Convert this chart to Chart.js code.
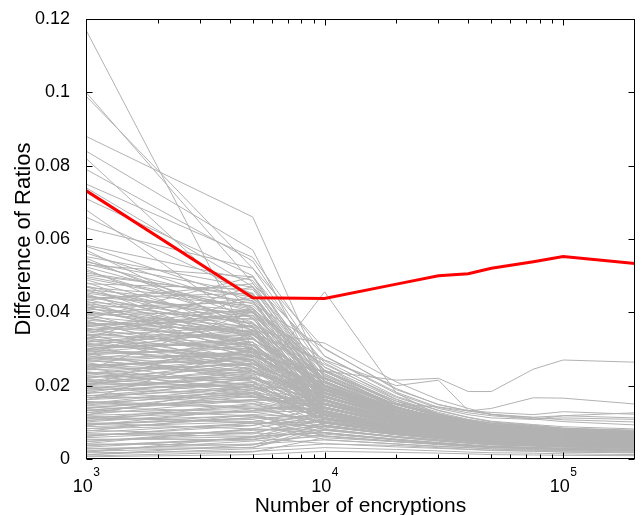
<!DOCTYPE html>
<html lang="en">
<head>
<meta charset="UTF-8">
<title>Difference of Ratios</title>
<style>
  html, body { margin: 0; padding: 0; background: #fff; }
  #wrap { width: 644px; height: 515px; }
</style>
</head>
<body>
<div id="wrap"><canvas id="ratios-chart" width="644" height="515"></canvas></div>
<script src="https://cdn.jsdelivr.net/npm/chart.js"></script>
<script>
// number of encryptions at which each ratio was measured
const encryptions = [1000, 5000, 10000, 20000, 30000, 40000, 50000, 75000, 100000, 200000];

// correct key guess (red)
const correctKey = [.0732, .0440, .0438, .0477, .0500, .0505, .0520, .0538, .0552, .0533];

// wrong key guesses (grey), one row per guess, same order as encryptions
const wrongKeys = [
  [.117,.030,.013,.0085,.0068,.0057,.0052,.0046,.0041,.0033],
  [.100,.048,.020,.0124,.0096,.0083,.0071,.0064,.0055,.0049],
  [.099,.052,.024,.0142,.0103,.0088,.0079,.0071,.0063,.0058],
  [.088,.066,.022,.0133,.0108,.0094,.0081,.0074,.0068,.0061],
  [.084,.057,.019,.0114,.0092,.0077,.0069,.0063,.0057,.0052],
  [.082,.040,.016,.0098,.0081,.0072,.0063,.0056,.0052,.0047],
  [.079,.054,.025,.0152,.0121,.0103,.0092,.0084,.0078,.0071],
  [.075,.055,.028,.0178,.0138,.0121,.0112,.0108,.0118,.0112],
  [.074,.047,.018,.0113,.0087,.0076,.0068,.0062,.0058,.0053],
  [.071,.050,.021,.0138,.0112,.0093,.0084,.0077,.0071,.0064],
  [.068,.036,.014,.0092,.0073,.0062,.0057,.0051,.0047,.0042],
  [.066,.045,.017,.0118,.0098,.0087,.0079,.0072,.0066,.0059],
  [.063,.052,.030,.0192,.0148,.0132,.0127,.0121,.0129,.0122],
  [.058,.043,.020,.0131,.0106,.0093,.0082,.0076,.0072,.0067],
  [.057,.035,.015,.0101,.0083,.0069,.0061,.0058,.0053,.0048],
  [.012,.020,.0456,.018,.012,.0098,.0089,.0081,.0074,.0063],
  [.030,.035,.0316,.021,.0162,.0138,.0121,.0113,.0107,.0101],
  [.025,.028,.024,.0215,.022,.0184,.0184,.0245,.027,.0264],
  [.020,.022,.018,.015,.0142,.0131,.0138,.0167,.0166,.015],
  [.035,.040,.027,.020,.0215,.0132,.0122,.0109,.0102,.0093],
  [.0552,.0468,.0223,.0141,.0107,.0092,.0083,.0071,.0068,.0057],
  [.0541,.0384,.0158,.0106,.0088,.0079,.0066,.0062,.0056,.0051],
  [.0529,.0497,.0262,.0163,.0127,.0108,.0098,.0088,.0081,.0072],
  [.0518,.0331,.0139,.0097,.0079,.0068,.0061,.0055,.0052,.0046],
  [.0507,.0442,.0193,.0127,.0103,.0086,.0077,.0081,.0073,.0061],
  [.0498,.0412,.0228,.0148,.0118,.0101,.0091,.0083,.0077,.0069],
  [.0489,.0358,.0121,.0082,.0068,.0059,.0052,.0047,.0044,.0039],
  [.0478,.0463,.0209,.0134,.0109,.0097,.0087,.0079,.0073,.0066],
  [.0471,.0302,.0171,.0117,.0096,.0082,.0073,.0066,.0061,.0054],
  [.0462,.0418,.0243,.0158,.0124,.0104,.0094,.0086,.0079,.0071],
  [.0453,.0387,.0112,.0074,.0061,.0053,.0048,.0043,.0039,.0036],
  [.0447,.0344,.0188,.0122,.0094,.0081,.0072,.0064,.0059,.0052],
  [.0439,.0452,.0201,.0139,.0108,.0091,.0083,.0076,.0071,.0063],
  [.0431,.0283,.0133,.0093,.0077,.0066,.0059,.0053,.0049,.0044],
  [.0424,.0372,.0219,.0149,.0121,.0106,.0097,.0089,.0083,.0076],
  [.0413,.0428,.0182,.0121,.0098,.0084,.0076,.0068,.0063,.0057],
  [.0406,.0318,.0153,.0108,.0088,.0073,.0067,.0061,.0057,.0051],
  [.0398,.0361,.0104,.0078,.0066,.0057,.0051,.0048,.0045,.0041],
  [.0392,.0403,.0211,.0132,.0102,.0088,.0079,.0073,.0068,.0061],
  [.0384,.0312,.0168,.0116,.0097,.0086,.0077,.0069,.0063,.0058],
  [.0377,.0263,.0093,.0068,.0057,.0049,.0043,.0039,.0036,.0031],
  [.0371,.0348,.0232,.0143,.0112,.0094,.0087,.0079,.0072,.0067],
  [.0364,.0383,.0162,.0108,.0083,.0072,.0066,.0059,.0056,.0049],
  [.0357,.0291,.0142,.0102,.0086,.0077,.0069,.0062,.0058,.0055],
  [.0349,.0327,.0198,.0138,.0116,.0099,.0091,.0082,.0077,.0071],
  [.0342,.0243,.0118,.0083,.0068,.0059,.0052,.0047,.0042,.0038],
  [.0336,.0362,.0179,.0121,.0099,.0087,.0078,.0071,.0066,.0062],
  [.0328,.0298,.0113,.0087,.0075,.0066,.0058,.0054,.0051,.0046],
  [.0321,.0338,.0207,.0129,.0101,.0084,.0076,.0069,.0063,.0058],
  [.0316,.0272,.0148,.0103,.0081,.0071,.0063,.0058,.0053,.0047],
  [.0309,.0234,.0172,.0113,.0091,.0079,.0072,.0066,.0062,.0056],
  [.0302,.0318,.0128,.0089,.0072,.0063,.0057,.0052,.0047,.0042],
  [.0296,.0283,.0192,.0137,.0112,.0098,.0088,.0081,.0074,.0068],
  [.0288,.0212,.0098,.0071,.0059,.0052,.0047,.0043,.0039,.0036],
  [.0283,.0309,.0158,.0104,.0087,.0077,.0069,.0063,.0058,.0053],
  [.0276,.0254,.0123,.0091,.0078,.0068,.0061,.0057,.0052,.0047],
  [.0269,.0293,.0218,.0148,.0118,.0102,.0093,.0084,.0078,.0072],
  [.0263,.0198,.0137,.0097,.0082,.0071,.0063,.0058,.0054,.0049],
  [.0257,.0268,.0109,.0082,.0069,.0061,.0054,.0049,.0046,.0041],
  [.0251,.0239,.0177,.0123,.0099,.0086,.0077,.0072,.0067,.0061],
  [.0244,.0297,.0151,.0108,.0089,.0078,.0071,.0066,.0061,.0057],
  [.0238,.0187,.0091,.0068,.0058,.0051,.0046,.0042,.0039,.0034],
  [.0232,.0262,.0131,.0092,.0077,.0068,.0062,.0056,.0052,.0048],
  [.0226,.0221,.0168,.0118,.0096,.0083,.0076,.0081,.0073,.0068],
  [.0219,.0281,.0197,.0131,.0106,.0092,.0083,.0076,.0071,.0066],
  [.0213,.0178,.0119,.0083,.0069,.0061,.0056,.0051,.0046,.0043],
  [.0207,.0232,.0102,.0079,.0066,.0058,.0052,.0047,.0043,.0038],
  [.0201,.0248,.0158,.0112,.0091,.0079,.0072,.0064,.0059,.0054],
  [.0194,.0168,.0141,.0098,.0081,.0069,.0063,.0057,.0053,.0048],
  [.0187,.0209,.0108,.0077,.0063,.0056,.0051,.0046,.0042,.0037],
  [.0181,.0242,.0186,.0127,.0102,.0088,.0079,.0072,.0067,.0061],
  [.0174,.0152,.0083,.0061,.0052,.0046,.0041,.0038,.0035,.0031],
  [.0167,.0198,.0128,.0093,.0078,.0068,.0061,.0057,.0052,.0047],
  [.0161,.0221,.0152,.0107,.0088,.0076,.0069,.0063,.0059,.0056],
  [.0154,.0139,.0098,.0071,.0059,.0052,.0047,.0043,.0039,.0035],
  [.0147,.0188,.0118,.0086,.0071,.0063,.0057,.0051,.0047,.0042],
  [.0141,.0162,.0171,.0119,.0097,.0087,.0078,.0071,.0066,.0062],
  [.0134,.0118,.0072,.0052,.0043,.0038,.0034,.0031,.0028,.0026],
  [.0126,.0178,.0112,.0081,.0068,.0059,.0053,.0048,.0044,.0039],
  [.0119,.0131,.0139,.0098,.0081,.0071,.0063,.0058,.0053,.0049],
  [.0112,.0102,.0089,.0067,.0056,.0049,.0044,.0041,.0037,.0033],
  [.0104,.0148,.0121,.0088,.0073,.0063,.0058,.0053,.0049,.0046],
  [.0097,.0108,.0063,.0048,.0041,.0036,.0032,.0029,.0027,.0023],
  [.0091,.0137,.0102,.0074,.0062,.0054,.0049,.0044,.0041,.0037],
  [.0083,.0092,.0128,.0092,.0077,.0068,.0061,.0054,.0051,.0047],
  [.0076,.0121,.0081,.0059,.0049,.0043,.0039,.0036,.0033,.0029],
  [.0068,.0072,.0108,.0079,.0064,.0057,.0052,.0047,.0043,.0039],
  [.0061,.0098,.0053,.0041,.0035,.0031,.0028,.0026,.0023,.0021],
  [.0054,.0053,.0091,.0068,.0057,.0049,.0044,.0041,.0038,.0034],
  [.0047,.0081,.0072,.0054,.0045,.0039,.0035,.0032,.0029,.0026],
  [.0041,.0038,.0098,.0076,.0066,.0058,.0052,.0048,.0044,.0041],
  [.0036,.0058,.0042,.0033,.0029,.0026,.0023,.0021,.0019,.0017],
  [.0029,.0031,.0079,.0061,.0052,.0044,.0039,.0035,.0033,.0029],
  [.0022,.0049,.0062,.0047,.0039,.0034,.0031,.0028,.0025,.0022],
  [.0017,.0021,.0031,.0026,.0022,.0019,.0017,.0016,.0014,.0012],
  [.0011,.0039,.0068,.0052,.0043,.0037,.0033,.0031,.0028,.0024],
  [.0006,.0012,.0021,.0018,.0016,.0014,.0012,.0011,.0010,.0009],
  [.0444,.0403,.0173,.0113,.0092,.0081,.0073,.0066,.0061,.0056],
  [.0423,.0308,.0203,.0133,.0107,.0093,.0084,.0077,.0071,.0064],
  [.0393,.0438,.0161,.0103,.0084,.0072,.0064,.0059,.0054,.0049],
  [.0372,.0281,.0238,.0157,.0123,.0104,.0094,.0086,.0081,.0073],
  [.0352,.0392,.0132,.0092,.0078,.0068,.0061,.0056,.0051,.0047],
  [.0331,.0258,.0181,.0114,.0093,.0081,.0073,.0068,.0063,.0058],
  [.0311,.0353,.0101,.0072,.0061,.0053,.0048,.0044,.0041,.0037],
  [.0291,.0327,.0189,.0128,.0102,.0089,.0081,.0074,.0069,.0063],
  [.0272,.0221,.0129,.0091,.0076,.0066,.0059,.0055,.0051,.0046],
  [.0252,.0287,.0161,.0112,.0093,.0081,.0072,.0065,.0061,.0058],
  [.0233,.0193,.0199,.0138,.0111,.0097,.0088,.0081,.0074,.0068],
  [.0212,.0268,.0142,.0098,.0081,.0071,.0064,.0058,.0053,.0049],
  [.0192,.0223,.0092,.0069,.0058,.0051,.0046,.0041,.0038,.0034],
  [.0172,.0191,.0158,.0112,.0092,.0081,.0073,.0067,.0062,.0057],
  [.0152,.0178,.0122,.0084,.0071,.0062,.0057,.0052,.0048,.0043],
  [.0133,.0162,.0148,.0102,.0084,.0074,.0067,.0061,.0057,.0052],
  [.0113,.0128,.0101,.0073,.0061,.0053,.0048,.0044,.0041,.0037],
  [.0093,.0112,.0118,.0087,.0073,.0064,.0058,.0052,.0048,.0044],
  [.0472,.0368,.0258,.0168,.0132,.0113,.0101,.0092,.0084,.0077],
  [.0433,.0478,.0281,.0182,.0141,.0126,.0118,.0109,.0112,.0108],
  [.0532,.0423,.0302,.0189,.0149,.0131,.0122,.0114,.0118,.0126],
  [.0412,.0343,.0268,.0171,.0133,.0114,.0103,.0094,.0088,.0082],
  [.0361,.0409,.0251,.0162,.0122,.0107,.0098,.0091,.0084,.0079],
  [.0583,.0487,.0232,.0148,.0117,.0101,.0089,.0083,.0079,.0073],
  [.0562,.0413,.0178,.0119,.0097,.0084,.0074,.0069,.0064,.0061],
  [.0548,.0357,.0213,.0134,.0104,.0089,.0081,.0076,.0072,.0064],
  [.0537,.0452,.0163,.0108,.0091,.0078,.0071,.0064,.0059,.0053],
  [.0524,.0401,.0242,.0152,.0121,.0103,.0093,.0086,.0082,.0074],
  [.0513,.0373,.0128,.0091,.0077,.0068,.0063,.0058,.0053,.0051],
  [.0502,.0447,.0197,.0123,.0101,.0088,.0082,.0074,.0068,.0063],
  [.0493,.0408,.0169,.0112,.0093,.0078,.0071,.0067,.0062,.0058],
  [.0482,.0327,.0221,.0141,.0113,.0098,.0089,.0082,.0076,.0072],
  [.0468,.0432,.0148,.0101,.0083,.0072,.0064,.0061,.0056,.0052],
  [.0461,.0352,.0192,.0127,.0106,.0091,.0083,.0078,.0073,.0066],
  [.0457,.0391,.0227,.0143,.0113,.0094,.0084,.0079,.0074,.0069],
  [.0451,.0298,.0142,.0099,.0079,.0069,.0062,.0058,.0054,.0049],
  [.0442,.0368,.0212,.0139,.0117,.0101,.0092,.0086,.0081,.0074],
  [.0436,.0332,.0162,.0108,.0088,.0077,.0071,.0064,.0059,.0054],
  [.0428,.0398,.0189,.0121,.0098,.0083,.0078,.0072,.0079,.0071],
  [.0419,.0343,.0118,.0083,.0068,.0059,.0053,.0049,.0046,.0042],
  [.0416,.0289,.0173,.0117,.0093,.0082,.0073,.0068,.0063,.0058],
  [.0409,.0381,.0222,.0142,.0111,.0097,.0088,.0081,.0074,.0071],
  [.0402,.0338,.0181,.0122,.0102,.0089,.0081,.0074,.0069,.0062],
  [.0396,.0277,.0138,.0101,.0083,.0071,.0064,.0059,.0055,.0051],
  [.0388,.0348,.0197,.0128,.0104,.0091,.0082,.0076,.0071,.0064],
  [.0386,.0302,.0124,.0088,.0072,.0063,.0058,.0053,.0049,.0044],
  [.0379,.0341,.0168,.0112,.0091,.0081,.0074,.0068,.0064,.0059],
  [.0373,.0318,.0209,.0138,.0113,.0094,.0086,.0079,.0072,.0068],
  [.0367,.0392,.0151,.0098,.0082,.0072,.0063,.0058,.0053,.0048],
  [.0362,.0329,.0187,.0123,.0101,.0087,.0079,.0072,.0064,.0061],
  [.0358,.0251,.0113,.0079,.0066,.0058,.0053,.0048,.0044,.0041],
  [.0352,.0364,.0218,.0141,.0114,.0098,.0091,.0083,.0078,.0073],
  [.0347,.0293,.0162,.0108,.0087,.0074,.0068,.0063,.0058,.0053],
  [.0341,.0312,.0178,.0121,.0098,.0087,.0078,.0071,.0066,.0063],
  [.0337,.0268,.0127,.0092,.0076,.0067,.0061,.0053,.0051,.0046],
  [.0331,.0339,.0199,.0131,.0104,.0088,.0081,.0074,.0069,.0064],
  [.0326,.0241,.0149,.0101,.0082,.0073,.0064,.0061,.0056,.0051],
  [.0321,.0301,.0171,.0118,.0097,.0083,.0074,.0068,.0062,.0059],
  [.0318,.0361,.0138,.0097,.0081,.0069,.0063,.0058,.0054,.0048],
  [.0312,.0282,.0187,.0128,.0107,.0092,.0084,.0077,.0069,.0064],
  [.0308,.0312,.0122,.0084,.0069,.0061,.0054,.0051,.0047,.0043],
  [.0302,.0252,.0158,.0108,.0089,.0078,.0069,.0063,.0058,.0053],
  [.0298,.0328,.0208,.0139,.0113,.0094,.0086,.0079,.0073,.0068],
  [.0293,.0271,.0132,.0089,.0073,.0064,.0058,.0053,.0049,.0045],
  [.0287,.0302,.0179,.0121,.0098,.0084,.0077,.0069,.0063,.0059],
  [.0282,.0224,.0148,.0102,.0084,.0072,.0067,.0061,.0057,.0052],
  [.0278,.0281,.0198,.0132,.0104,.0091,.0083,.0074,.0069,.0063],
  [.0273,.0318,.0141,.0096,.0079,.0068,.0063,.0057,.0053,.0049],
  [.0268,.0239,.0172,.0117,.0093,.0081,.0073,.0067,.0061,.0055],
  [.0264,.0291,.0121,.0083,.0071,.0062,.0055,.0051,.0046,.0041],
  [.0259,.0232,.0188,.0129,.0107,.0092,.0081,.0074,.0068,.0063],
  [.0254,.0272,.0149,.0101,.0084,.0073,.0064,.0059,.0054,.0051],
  [.0247,.0201,.0128,.0092,.0077,.0068,.0061,.0054,.0051,.0047],
  [.0243,.0258,.0182,.0121,.0098,.0084,.0077,.0071,.0064,.0059],
  [.0237,.0212,.0139,.0098,.0081,.0071,.0064,.0058,.0053,.0049],
  [.0233,.0277,.0163,.0111,.0092,.0079,.0072,.0066,.0061,.0056],
  [.0228,.0182,.0108,.0078,.0066,.0058,.0052,.0048,.0043,.0039],
  [.0222,.0251,.0191,.0129,.0103,.0089,.0081,.0073,.0068,.0061],
  [.0217,.0193,.0128,.0091,.0076,.0067,.0059,.0054,.0051,.0048],
  [.0211,.0238,.0159,.0109,.0089,.0078,.0071,.0064,.0059,.0053],
  [.0206,.0198,.0101,.0072,.0061,.0053,.0048,.0044,.0041,.0037],
  [.0203,.0262,.0172,.0118,.0097,.0083,.0074,.0068,.0062,.0058],
  [.0198,.0173,.0138,.0097,.0081,.0071,.0063,.0058,.0054,.0049],
  [.0193,.0228,.0118,.0082,.0068,.0062,.0056,.0051,.0047,.0042],
  [.0188,.0203,.0178,.0121,.0098,.0086,.0078,.0071,.0066,.0062],
  [.0183,.0158,.0127,.0088,.0074,.0066,.0059,.0053,.0049,.0046],
  [.0178,.0218,.0149,.0104,.0086,.0077,.0068,.0062,.0058,.0052],
  [.0172,.0208,.0109,.0079,.0066,.0058,.0053,.0048,.0043,.0041],
  [.0168,.0169,.0161,.0112,.0093,.0081,.0073,.0066,.0061,.0056],
  [.0162,.0181,.0121,.0086,.0071,.0063,.0057,.0053,.0048,.0043],
  [.0157,.0142,.0138,.0098,.0082,.0071,.0064,.0058,.0055,.0049],
  [.0151,.0198,.0168,.0118,.0096,.0084,.0074,.0068,.0063,.0057],
  [.0146,.0158,.0098,.0073,.0061,.0053,.0048,.0043,.0041,.0036],
  [.0141,.0128,.0131,.0093,.0074,.0064,.0058,.0053,.0049,.0044],
  [.0137,.0182,.0148,.0102,.0083,.0072,.0066,.0061,.0055,.0051],
  [.0131,.0171,.0112,.0081,.0067,.0059,.0053,.0048,.0045,.0041],
  [.0127,.0138,.0138,.0097,.0081,.0069,.0063,.0057,.0053,.0048],
  [.0121,.0161,.0158,.0108,.0089,.0078,.0071,.0063,.0058,.0054],
  [.0117,.0098,.0088,.0066,.0057,.0049,.0044,.0041,.0038,.0034],
  [.0109,.0151,.0131,.0092,.0077,.0068,.0061,.0054,.0051,.0047],
  [.0106,.0117,.0098,.0072,.0061,.0053,.0048,.0044,.0042,.0038],
  [.0101,.0132,.0152,.0108,.0089,.0077,.0071,.0064,.0058,.0053],
  [.0098,.0082,.0078,.0059,.0049,.0043,.0039,.0036,.0033,.0029],
  [.0092,.0121,.0113,.0083,.0069,.0061,.0054,.0049,.0045,.0042],
  [.0088,.0101,.0138,.0101,.0083,.0072,.0064,.0058,.0054,.0049],
  [.0082,.0113,.0092,.0068,.0057,.0051,.0045,.0041,.0038,.0034],
  [.0078,.0068,.0121,.0088,.0073,.0063,.0058,.0052,.0048,.0043],
  [.0072,.0098,.0101,.0074,.0062,.0054,.0048,.0045,.0041,.0038],
  [.0068,.0062,.0071,.0052,.0044,.0038,.0034,.0031,.0029,.0026],
  [.0063,.0091,.0127,.0091,.0076,.0064,.0058,.0053,.0049,.0044],
  [.0058,.0078,.0088,.0066,.0055,.0048,.0043,.0039,.0036,.0033],
  [.0052,.0061,.0108,.0081,.0068,.0059,.0053,.0048,.0044,.0041],
  [.0048,.0071,.0063,.0048,.0041,.0036,.0032,.0029,.0027,.0024],
  [.0042,.0083,.0119,.0087,.0072,.0063,.0057,.0051,.0047,.0043],
  [.0038,.0052,.0081,.0061,.0052,.0044,.0039,.0036,.0033,.0031],
  [.0032,.0058,.0098,.0073,.0061,.0053,.0048,.0044,.0041,.0037],
  [.0027,.0041,.0052,.0041,.0034,.0031,.0027,.0024,.0022,.0019],
  [.0021,.0032,.0088,.0067,.0056,.0049,.0043,.0039,.0036,.0033],
  [.0018,.0061,.0072,.0054,.0044,.0038,.0034,.0031,.0029,.0027],
  [.0012,.0028,.0041,.0037,.0031,.0027,.0024,.0022,.0019,.0017],
  [.0008,.0019,.0058,.0047,.0041,.0036,.0032,.0029,.0026,.0023],
  [.0281,.0448,.0213,.0133,.0104,.0091,.0082,.0074,.0068,.0063],
  [.0242,.0402,.0182,.0121,.0097,.0083,.0074,.0068,.0063,.0058],
  [.0328,.0471,.0238,.0152,.0121,.0103,.0094,.0086,.0079,.0072],
  [.0198,.0343,.0161,.0108,.0088,.0076,.0069,.0063,.0058,.0053],
  [.0161,.0302,.0201,.0131,.0103,.0089,.0081,.0072,.0068,.0062],
  [.0381,.0497,.0198,.0128,.0102,.0088,.0079,.0073,.0067,.0061]
];

// axis ticks
const xTickPowers = [3, 4, 5];
const xMinorTicks = [2000, 3000, 4000, 5000, 6000, 7000, 8000, 9000,
                     20000, 30000, 40000, 50000, 60000, 70000, 80000, 90000];
const yTicks = [0, 0.02, 0.04, 0.06, 0.08, 0.1, 0.12];

const family = '"Liberation Sans", Arial, Helvetica, sans-serif';

const toPoints = vals => encryptions.map((x, i) => ({ x: x, y: vals[i] }));

const datasets = [{
  data: toPoints(correctKey),
  borderColor: '#ff0000',
  borderWidth: 3
}];
wrongKeys.forEach(vals => {
  datasets.push({
    data: toPoints(vals),
    borderColor: 'rgb(178,178,178)',
    borderWidth: 1
  });
});

// matlab style frame, inward ticks and 10^n labels
const matlabBox = {
  id: 'matlabBox',
  afterDraw(chart) {
    const { ctx, chartArea: a, scales: { x, y } } = chart;
    const L = Math.round(a.left) + 0.5, R = Math.round(a.right) - 0.5;
    const T = Math.round(a.top) + 0.5, B = Math.round(a.bottom) - 0.5;
    ctx.save();
    ctx.strokeStyle = '#000';
    ctx.lineWidth = 1;
    ctx.strokeRect(L, T, R - L, B - T);
    ctx.beginPath();
    const xMajor = xTickPowers.map(p => Math.pow(10, p));
    xMajor.concat(xMinorTicks).forEach(v => {
      const px = Math.round(x.getPixelForValue(v)) + 0.5;
      const len = xMajor.includes(v) ? 6 : 4;
      ctx.moveTo(px, B); ctx.lineTo(px, B - len);
      ctx.moveTo(px, T); ctx.lineTo(px, T + len);
    });
    yTicks.forEach(v => {
      const py = Math.round(y.getPixelForValue(v)) + 0.5;
      ctx.moveTo(L, py); ctx.lineTo(L + 6, py);
      ctx.moveTo(R, py); ctx.lineTo(R - 6, py);
    });
    ctx.stroke();

    ctx.fillStyle = '#000';
    ctx.textAlign = 'left';
    ctx.textBaseline = 'alphabetic';
    xTickPowers.forEach(p => {
      const exp = String(p);
      ctx.font = '18px ' + family;
      const w1 = ctx.measureText('10').width;
      ctx.font = '12px ' + family;
      const w2 = ctx.measureText(exp).width;
      const start = x.getPixelForValue(Math.pow(10, p)) - (w1 + w2) / 2;
      ctx.font = '18px ' + family;
      ctx.fillText('10', start, a.bottom + 33);
      ctx.font = '12px ' + family;
      ctx.fillText(exp, start + w1 + 0.5, a.bottom + 16.5);
    });
    ctx.restore();
  }
};

new Chart(document.getElementById('ratios-chart'), {
  type: 'line',
  data: { datasets: datasets },
  options: {
    responsive: false,
    animation: false,
    events: [],
    layout: { padding: { top: 19, right: 9, left: 0, bottom: 0 } },
    plugins: { legend: { display: false }, tooltip: { enabled: false } },
    elements: { point: { radius: 0 }, line: { tension: 0 } },
    scales: {
      x: {
        type: 'logarithmic',
        min: 1000,
        max: 200000,
        grid: { display: false },
        border: { display: false },
        ticks: { display: false },
        afterFit: s => { s.height = 56; },
        title: {
          display: true,
          text: 'Number of encryptions',
          color: '#000',
          font: { family: family, size: 21, lineHeight: 0.8 },
          padding: 0
        }
      },
      y: {
        min: 0,
        max: 0.12,
        afterBuildTicks: s => { s.ticks = yTicks.map(v => ({ value: v })); },
        grid: { display: false },
        border: { display: false },
        ticks: {
          color: '#000',
          font: { family: family, size: 18 },
          padding: 8,
          callback: v => String(+v.toFixed(2))
        },
        afterFit: s => { s.width = 86; },
        title: {
          display: true,
          text: 'Difference of Ratios',
          color: '#000',
          font: { family: family, size: 22 },
          padding: { top: 11, bottom: 0 }
        }
      }
    }
  },
  plugins: [matlabBox]
});
</script>
</body>
</html>
